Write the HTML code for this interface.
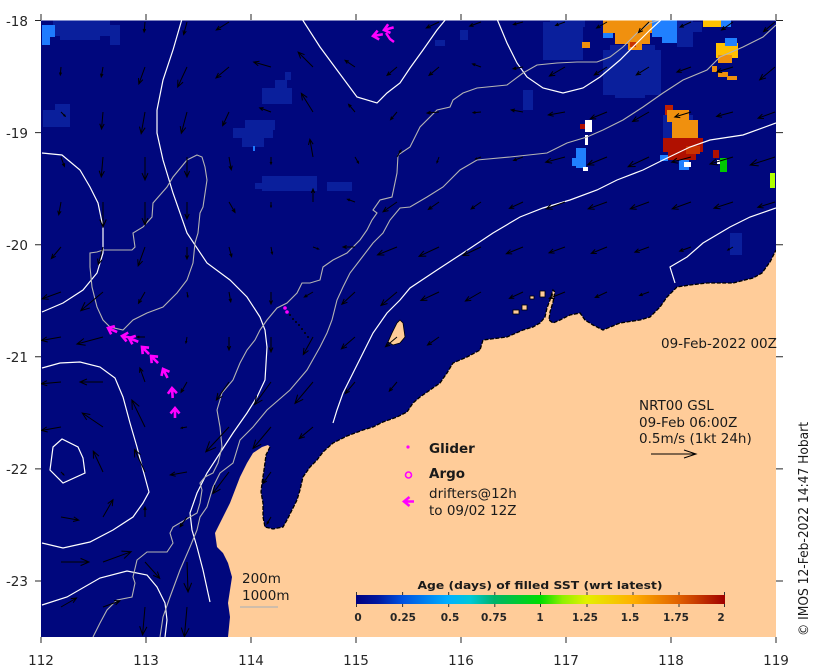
<!DOCTYPE html>
<html><head><meta charset="utf-8"><style>
html,body{margin:0;padding:0;background:#fff;}
svg{display:block;}
text{font-family:"DejaVu Sans","Liberation Sans",sans-serif;}
</style></head><body>
<svg width="819" height="672" viewBox="0 0 819 672" xmlns="http://www.w3.org/2000/svg">
<defs>
<linearGradient id="cb" x1="0" x2="1" y1="0" y2="0">
<stop offset="0" stop-color="#000080"/>
<stop offset="0.06" stop-color="#0018a0"/>
<stop offset="0.125" stop-color="#0050e0"/>
<stop offset="0.25" stop-color="#00b0ff"/>
<stop offset="0.31" stop-color="#00c8d8"/>
<stop offset="0.375" stop-color="#00b468"/>
<stop offset="0.5" stop-color="#00dd00"/>
<stop offset="0.56" stop-color="#90f000"/>
<stop offset="0.625" stop-color="#e4f000"/>
<stop offset="0.75" stop-color="#ffb000"/>
<stop offset="0.875" stop-color="#e06000"/>
<stop offset="1" stop-color="#a00000"/>
</linearGradient>
<clipPath id="mc"><rect x="41" y="20.5" width="735" height="616.5"/></clipPath>
<path id="ar" d="M0 0H1M0.7 -0.13L1 0L0.7 0.13" fill="none" stroke="#000" stroke-width="1" vector-effect="non-scaling-stroke"/>
<path id="dr" d="M10 0H0M5.5 -4.5L0 0L5.5 4.5" fill="none" stroke="#ff00ff" stroke-width="2.6"/>
</defs>

<g clip-path="url(#mc)">
<rect x="41" y="20.5" width="735" height="616.5" fill="#00077d"/>
<g fill="#0a1f9c">
<rect x="53" y="19" width="57" height="17"/><rect x="60" y="34" width="40" height="6"/><rect x="110" y="25" width="10" height="20"/>
<rect x="43" y="110" width="27" height="17"/><rect x="55" y="104" width="15" height="8"/>
<rect x="262" y="88" width="30" height="16"/><rect x="275" y="80" width="12" height="10"/><rect x="285" y="72" width="6" height="8"/>
<rect x="233" y="128" width="40" height="10"/><rect x="245" y="120" width="30" height="10"/><rect x="242" y="137" width="22" height="10"/>
<rect x="262" y="176" width="55" height="15"/><rect x="255" y="183" width="12" height="6"/><rect x="327" y="182" width="25" height="9"/>
<rect x="543" y="22" width="40" height="38"/><rect x="550" y="19" width="35" height="8"/>
<rect x="603" y="50" width="58" height="45"/><rect x="610" y="45" width="45" height="8"/><rect x="615" y="90" width="30" height="8"/>
<rect x="677" y="20" width="16" height="27"/><rect x="690" y="22" width="12" height="10"/>
<rect x="663" y="115" width="30" height="28"/><rect x="672" y="110" width="16" height="8"/>
<rect x="523" y="90" width="10" height="20"/><rect x="730" y="233" width="12" height="22"/>
<rect x="435" y="40" width="10" height="6"/><rect x="460" y="30" width="8" height="10"/>
</g>
<g>
<rect x="42" y="25" width="13" height="12" fill="#1e7bff"/><rect x="42" y="35" width="8" height="10" fill="#1e7bff"/>
<rect x="603" y="19" width="55" height="14" fill="#f0900e"/><rect x="615" y="30" width="35" height="14" fill="#f0900e"/>
<rect x="628" y="40" width="14" height="10" fill="#f0900e"/><rect x="630" y="42" width="6" height="5" fill="#c83200"/>
<rect x="652" y="19" width="25" height="18" fill="#2080ff"/><rect x="662" y="35" width="15" height="8" fill="#2080ff"/>
<rect x="603" y="33" width="10" height="5" fill="#2080ff"/>
<rect x="703" y="19" width="20" height="8" fill="#ffc000"/><rect x="721" y="19" width="10" height="8" fill="#2080ff"/>
<rect x="716" y="43" width="22" height="15" fill="#ffc000"/><rect x="725" y="38" width="12" height="8" fill="#2080ff"/>
<rect x="718" y="55" width="14" height="8" fill="#f0900e"/><rect x="712" y="66" width="5" height="6" fill="#f0900e"/>
<rect x="718" y="72" width="10" height="5" fill="#f0900e"/><rect x="727" y="76" width="10" height="4" fill="#f0900e"/>
<rect x="582" y="42" width="8" height="6" fill="#f0900e"/>
<rect x="665" y="105" width="8" height="10" fill="#c02000"/>
<rect x="667" y="110" width="22" height="12" fill="#f0900e"/><rect x="672" y="120" width="26" height="20" fill="#f0900e"/>
<rect x="663" y="138" width="40" height="14" fill="#b01000"/><rect x="668" y="150" width="28" height="10" fill="#b01000"/>
<rect x="686" y="146" width="14" height="8" fill="#c83200"/><rect x="660" y="155" width="8" height="6" fill="#2080ff"/>
<rect x="679" y="160" width="10" height="10" fill="#2080ff"/><rect x="684" y="162" width="7" height="5" fill="#fff"/>
<rect x="713" y="150" width="6" height="8" fill="#b01000"/><rect x="717" y="160" width="5" height="4" fill="#fff"/>
<rect x="720" y="158" width="7" height="14" fill="#00c800"/>
<rect x="585" y="120" width="7" height="12" fill="#fff"/><rect x="580" y="124" width="5" height="5" fill="#b01000"/>
<rect x="576" y="148" width="10" height="20" fill="#2080ff"/><rect x="572" y="158" width="6" height="8" fill="#2080ff"/>
<rect x="583" y="167" width="5" height="4" fill="#fff"/><rect x="585" y="135" width="3" height="10" fill="#fff"/>
<rect x="770" y="173" width="5" height="15" fill="#b0ff00"/>
<rect x="253" y="146" width="2" height="5" fill="#1e7bff"/>
</g>

<path d="M228 637L230 617L228 603L230 590L232 577L228 563L223 553L217 547L215 533L218 527L223 517L230 503L235 490L240 477L247 463L253 453L262 447L268 445L270 447L266 455L264 470L262 483L261 492L263 503L263 517L265 527L273 529L283 527L287 520L292 510L297 500L300 490L303 477L310 467L317 460L323 452L333 443L347 436L363 430L373 427L383 422L397 417L407 412L413 403L420 397L430 390L440 383L447 373L453 363L467 357L480 350L483 340L507 337L523 330L533 327L540 323L545 317L547 308L550 300L553 290L555 292L553 302L550 312L549 320L553 323L560 320L570 315L580 313L585 320L593 325L603 330L620 323L640 320L650 317L660 307L667 297L677 287L690 285L707 283L733 283L753 278L762 273L770 262L776 250L776 637Z" fill="#ffcc99"/>
<polyline points="270,447 266,455 264,470 262,483 261,492 263,503 263,517 265,527 273,529 283,527 287,520 292,510 297,500 300,490 303,477 310,467 317,460 323,452 333,443 347,436 363,430 373,427 383,422 397,417 407,412 413,403 420,397 430,390 440,383 447,373 453,363 467,357 480,350 483,340 507,337 523,330 533,327 540,323 545,317 547,308 550,300 553,290 555,292 553,302 550,312 549,320 553,323 560,320 570,315 580,313 585,320 593,325 603,330 620,323 640,320 650,317 660,307 667,297 677,287 690,285 707,283 733,283 753,278 762,273 770,262 776,250" fill="none" stroke="#000" stroke-width="1.3" stroke-dasharray="4 1.5"/>
<path d="M400 320L403 323L405 337L400 343L393 345L388 342L392 333L397 323Z" fill="#ffcc99" stroke="#000" stroke-width="0.8"/>
<g fill="#ffcc99" stroke="#000" stroke-width="0.8">
<rect x="513" y="310" width="6" height="4"/><rect x="522" y="305" width="5" height="5"/><rect x="540" y="291" width="5" height="6"/><rect x="530" y="296" width="4" height="3"/>
</g>

<g fill="none" stroke="#fff" stroke-width="1.2">
<polyline points="182,19 173,50 163,80 157,110 157,133 163,160 173,193 187,233 207,263 230,280 247,297 260,317 265,330 267,347 265,380 257,397 247,413 233,433 220,453 207,473 197,493 190,513 192,530 197,547 203,570 210,602"/>
<polyline points="302,19 320,47 337,70 357,97 377,103 387,93 400,83 410,68 423,50 437,30 446,19"/>
<polyline points="497,19 507,43 517,63 527,77 543,88 563,93 583,88 600,77 620,60 637,43 650,30 662,19"/>
<polyline points="776,123 743,135 710,140 690,147 663,160 643,170 617,180 597,190 570,200 543,208 520,217 493,233 463,253 437,270 410,288 400,300 387,313 373,333 363,353 353,373 343,393 337,410 333,423"/>
<polyline points="776,208 750,217 730,227 703,243 687,257 670,267 675,283"/>
<polyline points="42,153 62,155 80,170 90,187 98,203 103,227 103,253 97,273 83,290 63,303 42,312"/>
<polyline points="42,368 60,363 80,362 100,367 115,378 123,397 130,423 137,447 143,470 149,492 143,503 133,517 113,530 90,542 63,548 42,543"/>
<polygon points="53,447 62,439 78,447 83,458 85,473 63,483 50,470"/>
<polyline points="42,605 67,597 100,578 127,571 147,575 157,587 165,603 167,620 165,637"/>
</g>
<g fill="none" stroke="#b4b4b4" stroke-width="1.1">
<polyline points="776,25 763,37 743,47 720,57 707,70 683,80 663,93 643,107 623,120 603,130 587,137 567,143 547,153 510,157 477,160 460,170 443,187 427,197 410,207 400,208 390,220 383,233 373,243 360,260 350,273 343,287 337,300 332,320 327,333 320,347 307,370 290,390 267,410 253,427 240,440 233,463 220,473 213,487 207,507 200,517 197,530 190,547 180,570 170,597 163,617 160,637"/>
<polyline points="663,19 650,23 637,33 623,47 610,57 597,62 577,62 557,63 537,65 523,73 507,85 477,88 463,93 453,100 450,107 437,110 420,127 410,147 398,155 397,173 392,197 380,200 373,210 377,213 372,220 367,230 360,240 347,253 333,260 323,267 320,280 310,283 302,283 297,293 287,303 277,308 267,320 260,330 255,340 247,350 240,363 233,380 222,393 220,400 217,410 220,427 222,447 218,463 213,473 205,477 200,483 202,490 200,503 197,513 190,517 173,527 170,533 173,543 167,552 147,552 137,560 133,577 135,583 132,597 117,600 107,610 100,623 93,637"/>
<polygon points="197,155 202,157 205,167 207,180 203,207 200,213 198,233 195,243 193,263 187,280 177,293 163,307 147,313 133,320 123,330 110,327 103,320 97,307 92,287 90,267 90,253 97,252 103,250 113,250 132,250 135,247 133,233 143,227 152,217 153,203 167,187 173,177 187,160"/>
</g>

<g>
<use href="#ar" transform="translate(145 22) rotate(95) scale(10)"/><use href="#ar" transform="translate(187 22) rotate(105) scale(13)"/><use href="#ar" transform="translate(229 22) rotate(148) scale(15)"/><use href="#ar" transform="translate(439 22) rotate(155) scale(14)"/><use href="#ar" transform="translate(481 22) rotate(160) scale(12)"/><use href="#ar" transform="translate(523 22) rotate(165) scale(10)"/><use href="#ar" transform="translate(565 22) rotate(160) scale(10)"/><use href="#ar" transform="translate(607 22) rotate(150) scale(12)"/><use href="#ar" transform="translate(649 22) rotate(135) scale(15)"/><use href="#ar" transform="translate(691 22) rotate(155) scale(12)"/><use href="#ar" transform="translate(733 22) rotate(145) scale(14)"/><use href="#ar" transform="translate(775 22) rotate(140) scale(15)"/>

<use href="#ar" transform="translate(61 67) rotate(95) scale(8)"/><use href="#ar" transform="translate(103 67) rotate(100) scale(10)"/><use href="#ar" transform="translate(145 67) rotate(110) scale(18)"/><use href="#ar" transform="translate(187 67) rotate(115) scale(22)"/><use href="#ar" transform="translate(229 67) rotate(140) scale(17)"/><use href="#ar" transform="translate(271 67) rotate(196) scale(18)"/><use href="#ar" transform="translate(313 67) rotate(225) scale(21)"/><use href="#ar" transform="translate(355 67) rotate(214) scale(12)"/><use href="#ar" transform="translate(397 67) rotate(140) scale(13)"/><use href="#ar" transform="translate(439 67) rotate(140) scale(13)"/><use href="#ar" transform="translate(481 67) rotate(200) scale(9)"/><use href="#ar" transform="translate(523 67) rotate(170) scale(10)"/><use href="#ar" transform="translate(565 67) rotate(150) scale(18)"/><use href="#ar" transform="translate(607 67) rotate(148) scale(15)"/><use href="#ar" transform="translate(649 67) rotate(148) scale(15)"/><use href="#ar" transform="translate(691 67) rotate(160) scale(15)"/><use href="#ar" transform="translate(733 67) rotate(163) scale(17)"/><use href="#ar" transform="translate(775 67) rotate(140) scale(20)"/>

<use href="#ar" transform="translate(61 112) rotate(45) scale(6)"/><use href="#ar" transform="translate(103 112) rotate(95) scale(17)"/><use href="#ar" transform="translate(145 112) rotate(100) scale(22)"/><use href="#ar" transform="translate(187 112) rotate(105) scale(22)"/><use href="#ar" transform="translate(229 112) rotate(115) scale(15)"/><use href="#ar" transform="translate(271 112) rotate(200) scale(12)"/><use href="#ar" transform="translate(313 112) rotate(238) scale(22)"/><use href="#ar" transform="translate(355 112) rotate(230) scale(10)"/><use href="#ar" transform="translate(397 112) rotate(130) scale(10)"/><use href="#ar" transform="translate(439 112) rotate(175) scale(12)"/><use href="#ar" transform="translate(481 112) rotate(175) scale(8)"/><use href="#ar" transform="translate(523 112) rotate(190) scale(12)"/><use href="#ar" transform="translate(565 112) rotate(170) scale(17)"/><use href="#ar" transform="translate(607 112) rotate(158) scale(18)"/><use href="#ar" transform="translate(649 112) rotate(150) scale(19)"/><use href="#ar" transform="translate(691 112) rotate(163) scale(17)"/><use href="#ar" transform="translate(733 112) rotate(165) scale(17)"/><use href="#ar" transform="translate(775 112) rotate(160) scale(18)"/>

<use href="#ar" transform="translate(61 157) rotate(70) scale(10)"/><use href="#ar" transform="translate(103 157) rotate(95) scale(20)"/><use href="#ar" transform="translate(145 157) rotate(90) scale(23)"/><use href="#ar" transform="translate(187 157) rotate(90) scale(20)"/><use href="#ar" transform="translate(229 157) rotate(80) scale(13)"/><use href="#ar" transform="translate(271 157) rotate(90) scale(7)"/><use href="#ar" transform="translate(313 157) rotate(260) scale(18)"/><use href="#ar" transform="translate(355 157) rotate(60) scale(7)"/><use href="#ar" transform="translate(397 157) rotate(300) scale(8)"/><use href="#ar" transform="translate(439 157) rotate(110) scale(6)"/><use href="#ar" transform="translate(481 157) rotate(160) scale(6)"/><use href="#ar" transform="translate(523 157) rotate(160) scale(10)"/><use href="#ar" transform="translate(565 157) rotate(165) scale(20)"/><use href="#ar" transform="translate(607 157) rotate(158) scale(21)"/><use href="#ar" transform="translate(649 157) rotate(155) scale(23)"/><use href="#ar" transform="translate(691 157) rotate(165) scale(20)"/><use href="#ar" transform="translate(733 157) rotate(163) scale(24)"/><use href="#ar" transform="translate(775 157) rotate(162) scale(26)"/>

<use href="#ar" transform="translate(61 202) rotate(100) scale(13)"/><use href="#ar" transform="translate(103 202) rotate(90) scale(25)"/><use href="#ar" transform="translate(145 202) rotate(90) scale(23)"/><use href="#ar" transform="translate(187 202) rotate(90) scale(17)"/><use href="#ar" transform="translate(229 202) rotate(60) scale(12)"/><use href="#ar" transform="translate(271 202) rotate(90) scale(5)"/><use href="#ar" transform="translate(313 202) rotate(270) scale(13)"/><use href="#ar" transform="translate(355 202) rotate(200) scale(8)"/><use href="#ar" transform="translate(397 202) rotate(145) scale(17)"/><use href="#ar" transform="translate(439 202) rotate(145) scale(13)"/><use href="#ar" transform="translate(481 202) rotate(145) scale(12)"/><use href="#ar" transform="translate(523 202) rotate(155) scale(15)"/><use href="#ar" transform="translate(565 202) rotate(160) scale(20)"/><use href="#ar" transform="translate(607 202) rotate(160) scale(20)"/><use href="#ar" transform="translate(649 202) rotate(160) scale(20)"/><use href="#ar" transform="translate(691 202) rotate(160) scale(20)"/><use href="#ar" transform="translate(733 202) rotate(162) scale(20)"/><use href="#ar" transform="translate(775 202) rotate(163) scale(18)"/>

<use href="#ar" transform="translate(61 247) rotate(130) scale(15)"/><use href="#ar" transform="translate(103 247) rotate(105) scale(18)"/><use href="#ar" transform="translate(145 247) rotate(110) scale(20)"/><use href="#ar" transform="translate(187 247) rotate(90) scale(12)"/><use href="#ar" transform="translate(229 247) rotate(75) scale(10)"/><use href="#ar" transform="translate(271 247) rotate(80) scale(7)"/><use href="#ar" transform="translate(313 247) rotate(20) scale(6)"/><use href="#ar" transform="translate(355 247) rotate(180) scale(12)"/><use href="#ar" transform="translate(397 247) rotate(158) scale(21)"/><use href="#ar" transform="translate(439 247) rotate(155) scale(22)"/><use href="#ar" transform="translate(481 247) rotate(155) scale(20)"/><use href="#ar" transform="translate(523 247) rotate(158) scale(18)"/><use href="#ar" transform="translate(565 247) rotate(160) scale(17)"/><use href="#ar" transform="translate(607 247) rotate(158) scale(17)"/><use href="#ar" transform="translate(649 247) rotate(160) scale(15)"/><use href="#ar" transform="translate(691 247) rotate(160) scale(12)"/><use href="#ar" transform="translate(733 247) rotate(150) scale(6)"/>

<use href="#ar" transform="translate(61 292) rotate(160) scale(20)"/><use href="#ar" transform="translate(103 292) rotate(140) scale(29)"/><use href="#ar" transform="translate(145 292) rotate(120) scale(13)"/><use href="#ar" transform="translate(187 292) rotate(80) scale(5)"/><use href="#ar" transform="translate(229 292) rotate(80) scale(10)"/><use href="#ar" transform="translate(271 292) rotate(90) scale(12)"/><use href="#ar" transform="translate(313 292) rotate(150) scale(10)"/><use href="#ar" transform="translate(355 292) rotate(137) scale(18)"/><use href="#ar" transform="translate(397 292) rotate(140) scale(21)"/><use href="#ar" transform="translate(439 292) rotate(155) scale(20)"/><use href="#ar" transform="translate(481 292) rotate(150) scale(18)"/><use href="#ar" transform="translate(523 292) rotate(155) scale(15)"/><use href="#ar" transform="translate(565 292) rotate(158) scale(17)"/><use href="#ar" transform="translate(607 292) rotate(155) scale(13)"/><use href="#ar" transform="translate(649 292) rotate(160) scale(10)"/>

<use href="#ar" transform="translate(61 337) rotate(170) scale(20)"/><use href="#ar" transform="translate(103 337) rotate(165) scale(27)"/><use href="#ar" transform="translate(145 337) rotate(180) scale(8)"/><use href="#ar" transform="translate(187 337) rotate(100) scale(6)"/><use href="#ar" transform="translate(229 337) rotate(90) scale(13)"/><use href="#ar" transform="translate(271 337) rotate(90) scale(15)"/><use href="#ar" transform="translate(313 337) rotate(119) scale(20)"/><use href="#ar" transform="translate(355 337) rotate(139) scale(18)"/><use href="#ar" transform="translate(397 337) rotate(140) scale(15)"/><use href="#ar" transform="translate(439 337) rotate(145) scale(14)"/>

<use href="#ar" transform="translate(61 382) rotate(175) scale(20)"/><use href="#ar" transform="translate(103 382) rotate(180) scale(23)"/><use href="#ar" transform="translate(145 382) rotate(250) scale(15)"/><use href="#ar" transform="translate(187 382) rotate(120) scale(12)"/><use href="#ar" transform="translate(229 382) rotate(125) scale(22)"/><use href="#ar" transform="translate(271 382) rotate(126) scale(28)"/><use href="#ar" transform="translate(313 382) rotate(130) scale(28)"/><use href="#ar" transform="translate(355 382) rotate(130) scale(15)"/><use href="#ar" transform="translate(397 382) rotate(130) scale(12)"/>

<use href="#ar" transform="translate(61 427) rotate(170) scale(20)"/><use href="#ar" transform="translate(103 427) rotate(214) scale(25)"/><use href="#ar" transform="translate(145 427) rotate(244) scale(30)"/><use href="#ar" transform="translate(187 427) rotate(170) scale(6)"/><use href="#ar" transform="translate(229 427) rotate(133) scale(34)"/><use href="#ar" transform="translate(271 427) rotate(130) scale(28)"/><use href="#ar" transform="translate(313 427) rotate(140) scale(18)"/>

<use href="#ar" transform="translate(61 472) rotate(45) scale(4)"/><use href="#ar" transform="translate(103 472) rotate(245) scale(23)"/><use href="#ar" transform="translate(145 472) rotate(245) scale(25)"/><use href="#ar" transform="translate(187 472) rotate(170) scale(17)"/><use href="#ar" transform="translate(229 472) rotate(127) scale(27)"/><use href="#ar" transform="translate(271 472) rotate(125) scale(14)"/>

<use href="#ar" transform="translate(61 517) rotate(10) scale(18)"/><use href="#ar" transform="translate(103 517) rotate(300) scale(20)"/><use href="#ar" transform="translate(145 517) rotate(270) scale(10)"/><use href="#ar" transform="translate(187 517) rotate(125) scale(12)"/><use href="#ar" transform="translate(271 517) rotate(120) scale(8)"/>

<use href="#ar" transform="translate(61 562) rotate(0) scale(28)"/><use href="#ar" transform="translate(103 562) rotate(340) scale(30)"/><use href="#ar" transform="translate(145 562) rotate(48) scale(22)"/><use href="#ar" transform="translate(187 562) rotate(88) scale(30)"/>

<use href="#ar" transform="translate(61 607) rotate(330) scale(18)"/><use href="#ar" transform="translate(103 607) rotate(340) scale(18)"/><use href="#ar" transform="translate(145 607) rotate(95) scale(28)"/><use href="#ar" transform="translate(187 607) rotate(95) scale(30)"/>
</g>

<!-- drifter tracks (magenta arrows) -->
<g>
<use href="#dr" transform="translate(108 328) rotate(24)"/>
<use href="#dr" transform="translate(122 336) rotate(11)"/>
<use href="#dr" transform="translate(129 338) rotate(22)"/>
<use href="#dr" transform="translate(142 347) rotate(45)"/>
<use href="#dr" transform="translate(151 356) rotate(45)"/>
<use href="#dr" transform="translate(163 369) rotate(63)"/>
<use href="#dr" transform="translate(172 388) rotate(86)"/>
<use href="#dr" transform="translate(175 408) rotate(90)"/>
<use href="#dr" transform="translate(373 36) rotate(-10)"/>
<use href="#dr" transform="translate(384 30) rotate(-15)"/>
<polyline points="386,33 390,39 394,42" fill="none" stroke="#ff00ff" stroke-width="2.4"/>
</g>
<g>
<circle cx="285" cy="308" r="1.8" fill="#ff00ff"/><circle cx="287" cy="312" r="1.8" fill="#ff00ff"/>
<g fill="#000"><circle cx="290" cy="315" r="1"/><circle cx="293" cy="319" r="1"/><circle cx="296" cy="322" r="1"/><circle cx="299" cy="325" r="1"/><circle cx="302" cy="329" r="1"/><circle cx="305" cy="333" r="1"/><circle cx="308" cy="337" r="1"/></g>
</g>
</g>

<g stroke="#262626" stroke-width="1">
<path d="M41 14V20M146 14V20M251 14V20M356 14V20M461 14V20M566 14V20M671 14V20M776 14V20"/>
<path d="M41 637V643M146 637V643M251 637V643M356 637V643M461 637V643M566 637V643M671 637V643M776 637V643"/>
<path d="M35 20.5H41M35 132.6H41M35 244.7H41M35 356.8H41M35 468.9H41M35 581H41"/>
<path d="M776 20.5H783M776 132.6H783M776 244.7H783M776 356.8H783M776 468.9H783M776 581H783"/>
</g>
<g font-size="13.5" fill="#262626" text-anchor="end">
<text x="28" y="26">-18</text><text x="28" y="138">-19</text><text x="28" y="250">-20</text><text x="28" y="362">-21</text><text x="28" y="474">-22</text><text x="28" y="586">-23</text>
</g>
<g font-size="13.5" fill="#262626" text-anchor="middle">
<text x="41" y="665">112</text><text x="146" y="665">113</text><text x="251" y="665">114</text><text x="356" y="665">115</text><text x="461" y="665">116</text><text x="566" y="665">117</text><text x="671" y="665">118</text><text x="776" y="665">119</text>
</g>

<g font-size="13.5" fill="#1a1a1a">
<text x="661" y="348">09-Feb-2022 00Z</text>
<text x="639" y="410">NRT00 GSL</text>
<text x="639" y="427">09-Feb 06:00Z</text>
<text x="639" y="443">0.5m/s (1kt 24h)</text>
<text x="429" y="453" font-weight="bold">Glider</text>
<text x="429" y="478" font-weight="bold">Argo</text>
<text x="429" y="498">drifters@12h</text>
<text x="429" y="515">to 09/02 12Z</text>
<text x="242" y="583">200m</text>
<text x="242" y="600">1000m</text>
</g>
<path d="M651 454H696M684 450L696 454L684 458" fill="none" stroke="#000" stroke-width="1"/>
<line x1="240" y1="607" x2="278" y2="607" stroke="#b4b4b4" stroke-width="1.2"/>
<circle cx="408" cy="447" r="1.6" fill="#ff00ff"/>
<circle cx="408.5" cy="475" r="3" fill="none" stroke="#ff00ff" stroke-width="1.6"/>
<use href="#dr" transform="translate(404 501.5)"/>

<text x="540" y="589" font-size="11" font-weight="bold" fill="#1a1a1a" text-anchor="middle" textLength="245" lengthAdjust="spacingAndGlyphs">Age (days) of filled SST (wrt latest)</text>
<rect x="356" y="595" width="369" height="9" fill="url(#cb)"/>
<g stroke="#333" stroke-width="1">
<path d="M356.5 592V595M402.6 592V595M448.7 592V595M494.8 592V595M540.5 592V595M587 592V595M633 592V595M679 592V595M724.5 592V595"/>
<path d="M356.5 604V607M402.6 604V607M448.7 604V607M494.8 604V607M540.5 604V607M587 604V607M633 604V607M679 604V607M724.5 604V607"/>
</g>
<g font-size="10.5" font-weight="bold" fill="#262626" text-anchor="middle">
<text x="358" y="621">0</text><text x="403" y="621">0.25</text><text x="450" y="621">0.5</text><text x="494" y="621">0.75</text><text x="540" y="621">1</text><text x="585" y="621">1.25</text><text x="630" y="621">1.5</text><text x="676" y="621">1.75</text><text x="721" y="621">2</text>
</g>

<text transform="translate(808 636) rotate(-90)" font-size="13.5" fill="#1a1a1a" textLength="214" lengthAdjust="spacingAndGlyphs">© IMOS 12-Feb-2022 14:47 Hobart</text>
</svg>
</body></html>
